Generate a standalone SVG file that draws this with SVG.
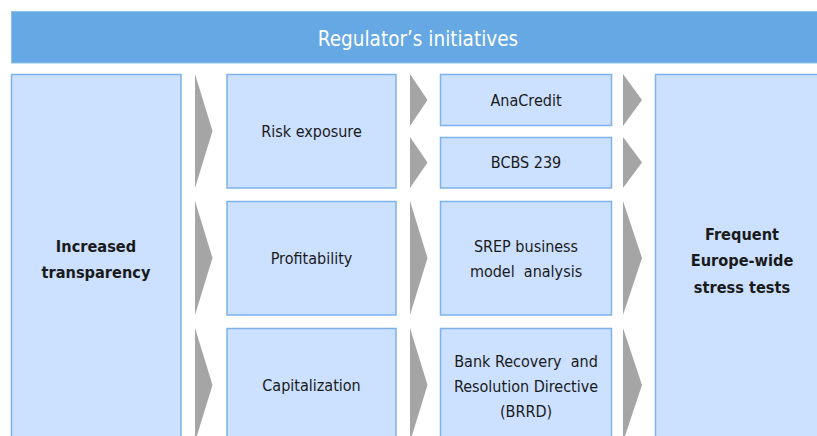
<svg xmlns="http://www.w3.org/2000/svg" width="817" height="436" viewBox="0 0 817 436">
<style>
.box{fill:#CCE0FF;stroke:#7DB3EA;stroke-width:1.5}
.hdr{fill:#65A8E3;stroke:#8EC0EE;stroke-width:1}
.arr{fill:#A5A5A5}
text{font-family:"Liberation Sans Narrow","DejaVu Sans Condensed","Liberation Sans",sans-serif;text-anchor:middle;fill:#1a1a1a;font-size:16px}
.b{font-weight:bold;font-size:16.2px}
.h{fill:#ffffff;font-size:20.5px}
</style>
<rect width="817" height="436" fill="#ffffff"/>
<g id="header">
<rect class="hdr" x="11.5" y="11.5" width="810" height="51.5"/>
<text class="h" x="418" y="45.5">Regulator’s initiatives</text>
</g>
<g id="connectors">
<polygon class="arr" points="195,74 212.5,131 195,188"/>
<polygon class="arr" points="195,201 212.5,258 195,315"/>
<polygon class="arr" points="195,328 212.5,385 195,442"/>
<polygon class="arr" points="410,74 427.5,100 410,126"/>
<polygon class="arr" points="410,137 427.5,162.5 410,188"/>
<polygon class="arr" points="410,201 427.5,258 410,315"/>
<polygon class="arr" points="410,328 427.5,385 410,442"/>
<polygon class="arr" points="623,74 642,100 623,126"/>
<polygon class="arr" points="623,137 642,162.5 623,188"/>
<polygon class="arr" points="623,201 642,258 623,315"/>
<polygon class="arr" points="623,328 642,385 623,442"/>
</g>
<g id="increased-transparency">
<rect class="box" x="11.5" y="74.5" width="169.5" height="380"/>
<text class="b" x="96" y="252">Increased</text>
<text class="b" x="96" y="278">transparency</text>
</g>
<g id="risk-exposure">
<rect class="box" x="227" y="74.5" width="169" height="113.5"/>
<text x="311.5" y="137">Risk exposure</text>
</g>
<g id="profitability">
<rect class="box" x="227" y="201.5" width="169" height="113.5"/>
<text x="311.5" y="264">Profitability</text>
</g>
<g id="capitalization">
<rect class="box" x="227" y="328.5" width="169" height="120"/>
<text x="311.5" y="391">Capitalization</text>
</g>
<g id="anacredit">
<rect class="box" x="440.5" y="74.5" width="171" height="51"/>
<text x="526" y="106">AnaCredit</text>
</g>
<g id="bcbs239">
<rect class="box" x="440.5" y="137.5" width="171" height="50.5"/>
<text x="526" y="168">BCBS 239</text>
</g>
<g id="srep">
<rect class="box" x="440.5" y="201.5" width="171" height="113.5"/>
<text x="526" y="252">SREP business</text>
<text x="526" y="277" xml:space="preserve">model  analysis</text>
</g>
<g id="brrd">
<rect class="box" x="440.5" y="328.5" width="171" height="120"/>
<text x="526" y="367" xml:space="preserve">Bank Recovery  and</text>
<text x="526" y="392">Resolution Directive</text>
<text x="526" y="417">(BRRD)</text>
</g>
<g id="stress-tests">
<rect class="box" x="655.5" y="74.5" width="175" height="380"/>
<text class="b" x="742" y="240">Frequent</text>
<text class="b" x="742" y="266">Europe-wide</text>
<text class="b" x="742" y="293">stress tests</text>
</g>
</svg>
